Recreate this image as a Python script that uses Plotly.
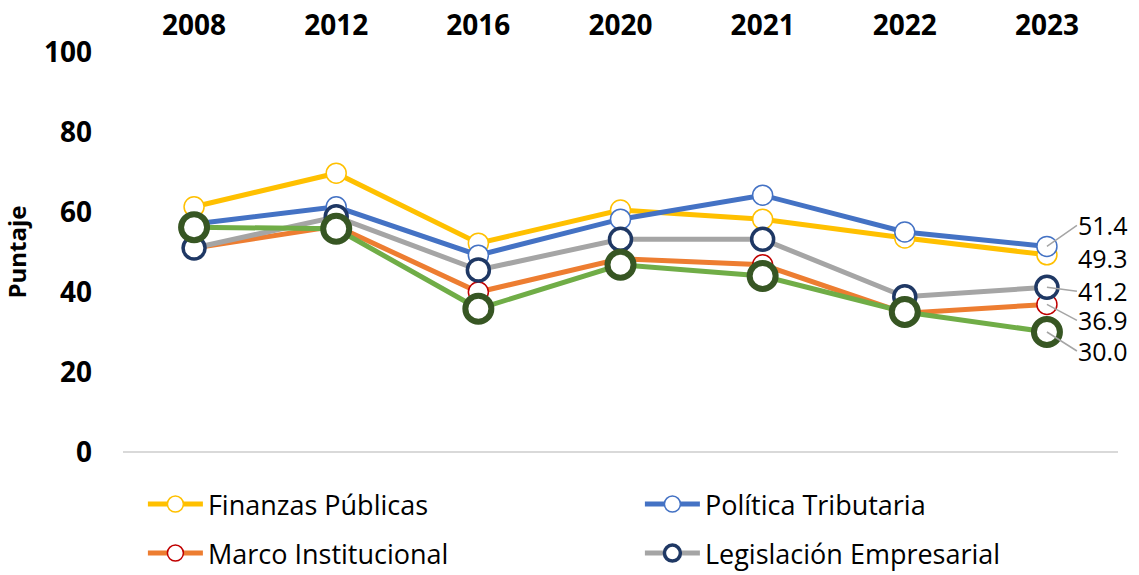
import plotly.graph_objects as go

years = ["2008", "2012", "2016", "2020", "2021", "2022", "2023"]
finanzas = [61.3, 69.7, 52.2, 60.5, 58.2, 53.5, 49.3]
politica = [57.0, 61.3, 49.2, 58.2, 64.2, 55.0, 51.4]
marco = [51.0, 56.5, 40.0, 48.3, 46.8, 34.7, 36.9]
legislacion = [51.0, 58.8, 45.5, 53.2, 53.2, 38.8, 41.2]
otro = [56.2, 55.8, 35.8, 46.8, 44.0, 35.0, 30.0]

series = [
    ("Finanzas Públicas", finanzas, "#FFC000", "#FFC000", 1.5, 20, True, "legend"),
    ("Política Tributaria", politica, "#4472C4", "#4472C4", 1.5, 20, True, "legend"),
    ("Marco Institucional", marco, "#ED7D31", "#C00000", 1.5, 20, True, "legend2"),
    ("Legislación Empresarial", legislacion, "#A5A5A5", "#1F3864", 3.5, 22, True, "legend2"),
    ("Otro", otro, "#70AD47", "#375623", 6, 26, False, "legend"),
]

fig = go.Figure()
for name, vals, lc, mc, mw, ms, leg, lg in series:
    fig.add_trace(go.Scatter(
        x=list(range(len(years))), y=vals, name=name, mode="lines+markers",
        line=dict(color=lc, width=5),
        marker=dict(symbol="circle", size=ms, color="white", line=dict(color=mc, width=mw)),
        showlegend=leg, legend=lg,
    ))

# end labels: (x offset of text left edge, y offset of text centre, draw leader)
label_offsets = {51.4: (30, -21, True), 49.3: (30, 3, False), 41.2: (30, 4, True),
                 36.9: (30, 16, True), 30.0: (30, 19, True)}
last_vals = [politica[-1], finanzas[-1], legislacion[-1], marco[-1], otro[-1]]
for v in last_vals:
    ax, ay, arrow = label_offsets[v]
    fig.add_annotation(
        x=len(years) - 1, y=v, xref="x", yref="y", text=f"{v:.1f}",
        showarrow=True, ax=ax, ay=ay, arrowhead=0, arrowwidth=1.5, standoff=0,
        xanchor="left", borderpad=0,
        arrowcolor="#A5A5A5" if arrow else "rgba(0,0,0,0)",
        font=dict(family="Open Sans", size=25, color="black"),
    )

legend_common = dict(orientation="h", x=0.02, xanchor="left", yanchor="top",
                     entrywidth=427, entrywidthmode="pixels", itemwidth=55,
                     font=dict(family="Open Sans", size=27, color="black"),
                     bgcolor="rgba(0,0,0,0)")

fig.update_layout(
    width=1139, height=575,
    margin=dict(l=123, r=21, t=52, b=123, autoexpand=False),
    paper_bgcolor="white", plot_bgcolor="white",
    font=dict(family="Open Sans", color="black"),
    showlegend=True,
    legend=dict(y=-0.07, **legend_common),
    legend2=dict(y=-0.1925, **legend_common),
    xaxis=dict(
        range=[-0.5, 6.5], side="top", tickmode="array",
        tickvals=list(range(len(years))), ticktext=years,
        showgrid=False, zeroline=False, showline=False, ticks="",
        ticklabelstandoff=10,
        tickfont=dict(family="Open Sans", size=28, color="black", weight="bold"),
        fixedrange=True,
    ),
    yaxis=dict(
        range=[0, 100], tickvals=[0, 20, 40, 60, 80, 100],
        showgrid=False, zeroline=True, zerolinecolor="#D9D9D9", zerolinewidth=2,
        showline=False, ticks="", ticklabelstandoff=30,
        tickfont=dict(family="Open Sans", size=28, color="black", weight="bold"),
        title=dict(text="Puntaje", standoff=11,
                   font=dict(family="Open Sans", size=24, color="black", weight="bold")),
    ),
)

fig.write_html("out.html", config={"displayModeBar": False},
               post_script="document.body.style.margin='0';")
